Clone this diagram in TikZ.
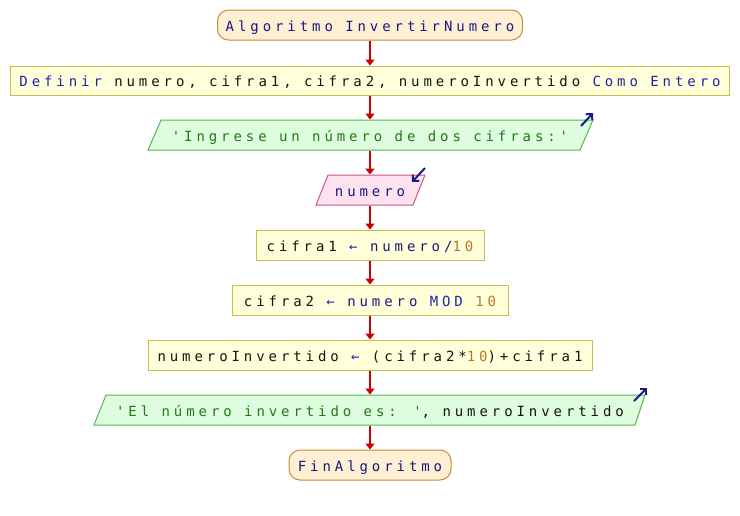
\documentclass[tikz,border=0pt]{standalone}
\usepackage{fontspec}
\newfontfamily\psfont[LetterSpace=28]{DejaVu Sans Mono}
\usetikzlibrary{arrows.meta}
\definecolor{termF}{RGB}{255,240,212}
\definecolor{termB}{RGB}{200,140,55}
\definecolor{procF}{RGB}{255,255,218}
\definecolor{procB}{RGB}{200,190,75}
\definecolor{outF}{RGB}{222,252,222}
\definecolor{outB}{RGB}{85,180,85}
\definecolor{inF}{RGB}{255,226,240}
\definecolor{inB}{RGB}{200,85,135}
\definecolor{flowC}{RGB}{204,0,0}
\definecolor{navy}{RGB}{25,25,130}
\definecolor{kw}{RGB}{35,35,170}
\definecolor{strC}{RGB}{35,120,25}
\definecolor{numC}{RGB}{190,115,45}
\definecolor{idC}{RGB}{20,20,20}
\begin{document}
\begin{tikzpicture}[x=1pt,y=-1pt,
  base/.style={font=\psfont\fontsize{14}{16}\selectfont, text=idC, minimum height=30pt, inner sep=0pt, line width=1pt, text height=12pt, text depth=0pt},
  term/.style={base, draw=termB, fill=termF, rounded corners=11pt, text=navy},
  proc/.style={base, draw=procB, fill=procF},
  iobox/.style={base},
  outshape/.style={draw=outB, fill=outF, line width=1pt},
  inshape/.style={draw=inB, fill=inF, line width=1pt},
  flow/.style={draw=flowC, line width=2pt, -{Triangle[width=9pt,length=6pt]}},
  icon/.style={draw=navy, line width=2pt, -{Straight Barb[length=4.5pt,width=9pt]}}]
\useasboundingbox (0,0) rectangle (740,515);
\fill[white] (0,0) rectangle (740,515);

% start
\node[term, minimum width=305pt] (start) at (370,25) {Algoritmo InvertirNumero};
% definir
\node[proc, minimum width=719pt, minimum height=29pt] (def) at (370,80.5) {{\color{kw}Definir} numero, cifra1, cifra2, numeroInvertido {\color{kw}Como Entero}};
% output 1
\filldraw[outshape] (161,120) -- (593,120) -- (580,150) -- (148,150) -- cycle;
\node[iobox, minimum width=432pt] (out1) at (370,135) {{\color{strC}'Ingrese un número de dos cifras:'}};
\draw[icon] (581,126) -- (593,113);
% input
\filldraw[inshape] (328,175) -- (425,175) -- (413,205) -- (316,205) -- cycle;
\node[iobox, minimum width=97pt, text=navy] (in1) at (370,190) {numero};
\draw[icon] (425,168) -- (412,182);
% assignments
\node[proc, minimum width=228pt] (c1) at (370,245) {cifra1 {\color{kw}←} {\color{navy}numero/}{\color{numC}10}};
\node[proc, minimum width=276pt] (c2) at (370,300) {cifra2 {\color{kw}←} {\color{navy}numero} {\color{kw}MOD} {\color{numC}10}};
\node[proc, minimum width=444pt] (ni) at (370,355) {numeroInvertido {\color{kw}←} (cifra2*{\color{numC}10})+cifra1};
% output 2
\filldraw[outshape] (106,395) -- (645,395) -- (635,425) -- (94,425) -- cycle;
\node[iobox, minimum width=540pt] (out2) at (370,410) {{\color{strC}'El número invertido es: '}, numeroInvertido};
\draw[icon] (634,401) -- (647,388);
% end
\node[term, minimum width=162pt] (fin) at (370,465) {FinAlgoritmo};

% connectors
\draw[flow] (start.south) -- (def.north);
\draw[flow] (def.south) -- (out1.north);
\draw[flow] (out1.south) -- (in1.north);
\draw[flow] (in1.south) -- (c1.north);
\draw[flow] (c1.south) -- (c2.north);
\draw[flow] (c2.south) -- (ni.north);
\draw[flow] (ni.south) -- (out2.north);
\draw[flow] (out2.south) -- (fin.north);
\end{tikzpicture}
\end{document}
